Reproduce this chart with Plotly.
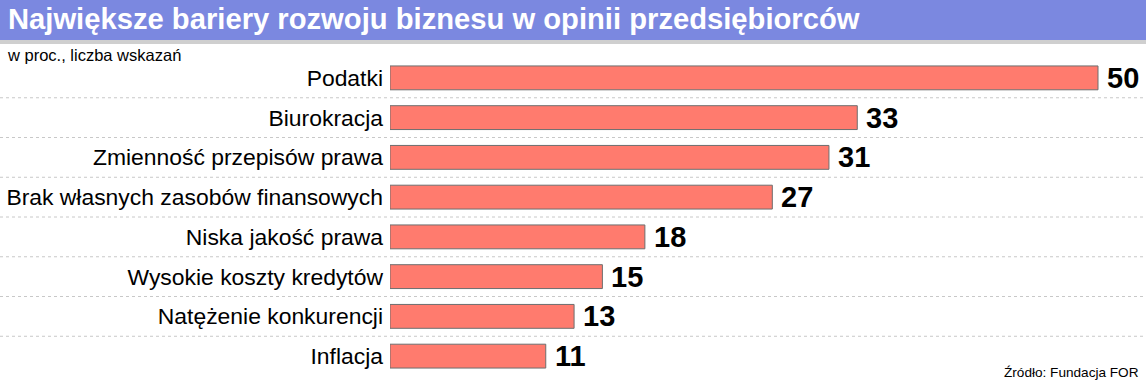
import plotly.graph_objects as go

categories = ["Podatki", "Biurokracja", "Zmienność przepisów prawa",
              "Brak własnych zasobów finansowych", "Niska jakość prawa",
              "Wysokie koszty kredytów", "Natężenie konkurencji", "Inflacja"]
values = [50, 33, 31, 27, 18, 15, 13, 11]

title = "Największe bariery rozwoju biznesu w opinii przedsiębiorców"
subtitle = "w proc., liczba wskazań"
source = "Źródło: Fundacja FOR"

W, H = 1146, 385
ML, MR, MT, MB = 390, 0, 58, 9
PW = W - ML - MR
PH = H - MT - MB
FONT = "Liberation Sans, Arial, Helvetica"


def px_x(x):
    return (x - ML) / PW


def px_y(y):
    return (H - MB - y) / PH


fig = go.Figure(go.Bar(
    y=categories, x=values, orientation="h",
    marker=dict(color="#ff7b6e", line=dict(color="#6e6e6e", width=1)),
    width=0.6,
    hoverinfo="skip",
))

shapes = [
    dict(type="rect", xref="paper", yref="paper", x0=px_x(0), x1=1,
         y0=px_y(40), y1=px_y(0),
         fillcolor="#7b88e0", line=dict(width=0), layer="below"),
    dict(type="rect", xref="paper", yref="paper", x0=px_x(0), x1=1,
         y0=px_y(44), y1=px_y(40),
         fillcolor="#cfcfcf", line=dict(width=0), layer="below"),
]
for i in range(len(categories) - 1):
    shapes.append(dict(type="line", xref="paper", yref="y",
                       x0=px_x(0), x1=1, y0=i + 0.5, y1=i + 0.5,
                       line=dict(color="#c8c8c8", width=1, dash="dot"), layer="below"))

annotations = [
    dict(text="<b>" + title + "</b>", xref="paper", yref="paper",
         x=px_x(6), y=px_y(19), xanchor="left", yanchor="middle", showarrow=False,
         font=dict(size=29.2, color="white", family=FONT)),
    dict(text=subtitle, xref="paper", yref="paper",
         x=px_x(5), y=px_y(55), xanchor="left", yanchor="middle", showarrow=False,
         font=dict(size=16.5, color="black", family=FONT)),
    dict(text=source, xref="paper", yref="paper",
         x=px_x(1141), y=px_y(372), xanchor="right", yanchor="middle", showarrow=False,
         font=dict(size=13.6, color="black", family=FONT)),
]
for c, v in zip(categories, values):
    annotations.append(dict(text="<b>%d</b>" % v, xref="x", yref="y", x=v, y=c,
                            xanchor="left", yanchor="middle", xshift=7, yshift=0,
                            showarrow=False,
                            font=dict(size=29, color="black", family=FONT)))

fig.update_layout(
    width=W, height=H,
    margin=dict(l=ML, r=MR, t=MT, b=MB),
    paper_bgcolor="white", plot_bgcolor="white",
    showlegend=False,
    shapes=shapes,
    annotations=annotations,
    xaxis=dict(range=[0, PW / 14.16], visible=False, showgrid=False, zeroline=False),
    yaxis=dict(autorange="reversed", showgrid=False, zeroline=False, showline=False,
               ticks="", ticklabelstandoff=6,
               tickfont=dict(family=FONT, size=22.9, color="black")),
    font=dict(family=FONT),
)

fig.write_html("out.html", config={"displayModeBar": False},
               post_script="document.body.style.margin='0';document.body.style.overflow='hidden';")
